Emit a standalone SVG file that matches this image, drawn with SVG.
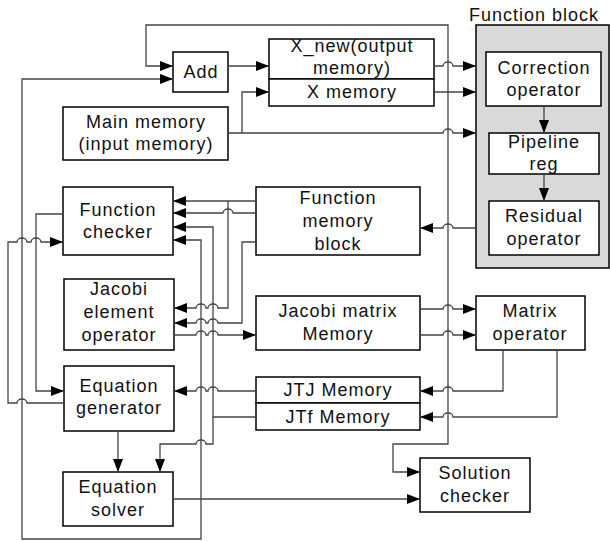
<svg xmlns="http://www.w3.org/2000/svg" width="610" height="541" viewBox="0 0 610 541">
<style>
.b{fill:#fff;stroke:#000;stroke-width:1.5}
.g{fill:#d9d9d9;stroke:#000;stroke-width:1.5}
.t{font-family:"Liberation Sans",Arial,sans-serif;font-size:18px;letter-spacing:1px;text-anchor:middle;fill:#111}
.c path{fill:none;stroke:#444;stroke-width:1.3}
.c path.a{marker-end:url(#ah)}
</style>
<defs>
<marker id="ah" markerUnits="userSpaceOnUse" markerWidth="14" markerHeight="10" refX="13" refY="5" orient="auto">
<path d="M0,0 L13,5 L0,10 z" fill="#000"/>
</marker>
</defs>
<rect width="610" height="541" fill="#fff"/>

<g id="function-block">
<rect class="g" x="476" y="25" width="133" height="243"/>
<text class="t" x="534" y="21">Function block</text>
</g>
<g id="add"><rect class="b" x="173" y="52" width="55" height="40"/><text class="t" x="201" y="78">Add</text></g>
<g id="x-new"><rect class="b" x="269" y="39" width="165" height="40"/><text class="t" x="352" y="52">X_new(output</text><text class="t" x="352" y="74">memory)</text></g>
<g id="x-memory"><rect class="b" x="269" y="79" width="165" height="27"/><text class="t" x="352" y="98">X memory</text></g>
<g id="main-memory"><rect class="b" x="63" y="107" width="165" height="53"/><text class="t" x="146" y="128">Main memory</text><text class="t" x="146" y="150">(input memory)</text></g>
<g id="correction-operator"><rect class="b" x="486" y="52" width="115" height="54"/><text class="t" x="544" y="74">Correction</text><text class="t" x="544" y="96">operator</text></g>
<g id="pipeline-reg"><rect class="b" x="489" y="133" width="110" height="41"/><text class="t" x="544" y="148">Pipeline</text><text class="t" x="544" y="170">reg</text></g>
<g id="residual-operator"><rect class="b" x="489" y="201" width="110" height="54"/><text class="t" x="544" y="222">Residual</text><text class="t" x="544" y="245">operator</text></g>
<g id="function-memory-block"><rect class="b" x="256" y="187" width="164" height="68"/><text class="t" x="338" y="204">Function</text><text class="t" x="338" y="227">memory</text><text class="t" x="338" y="250">block</text></g>
<g id="function-checker"><rect class="b" x="63" y="187" width="110" height="68"/><text class="t" x="118" y="216">Function</text><text class="t" x="118" y="238">checker</text></g>
<g id="jacobi-element-operator"><rect class="b" x="64" y="279" width="110" height="71"/><text class="t" x="119" y="295">Jacobi</text><text class="t" x="119" y="318">element</text><text class="t" x="119" y="341">operator</text></g>
<g id="jacobi-matrix-memory"><rect class="b" x="256" y="296" width="164" height="54"/><text class="t" x="338" y="317">Jacobi matrix</text><text class="t" x="338" y="340">Memory</text></g>
<g id="matrix-operator"><rect class="b" x="476" y="296" width="109" height="54"/><text class="t" x="530" y="317">Matrix</text><text class="t" x="530" y="340">operator</text></g>
<g id="jtj-memory"><rect class="b" x="256" y="377" width="164" height="26"/><text class="t" x="338" y="396">JTJ Memory</text></g>
<g id="jtf-memory"><rect class="b" x="256" y="403" width="164" height="27"/><text class="t" x="338" y="423">JTf Memory</text></g>
<g id="equation-generator"><rect class="b" x="64" y="366" width="110" height="65"/><text class="t" x="119" y="392">Equation</text><text class="t" x="119" y="414">generator</text></g>
<g id="equation-solver"><rect class="b" x="63" y="472" width="110" height="54"/><text class="t" x="118" y="493">Equation</text><text class="t" x="118" y="516">solver</text></g>
<g id="solution-checker"><rect class="b" x="420" y="458" width="110" height="54"/><text class="t" x="475" y="479">Solution</text><text class="t" x="475" y="502">checker</text></g>

<g id="connectors" class="c">
<path class="a" d="M434,92 H476"/>
<path class="a" d="M448,92 V25 H146 V66 H173"/>
<path class="a" d="M448,92 V444 H393 V472 H420"/>
<path class="a" d="M228,66 H269"/>
<path class="a" d="M434,66 H443 a5,4 0 0 1 10,0 H476"/>
<path class="a" d="M228,133 H443 a5,4 0 0 1 10,0 H476"/>
<path class="a" d="M242,133 V92 H269"/>
<path class="a" d="M544,106 V133"/>
<path class="a" d="M544,174 V201"/>
<path class="a" d="M476,228 H453 a5,4 0 0 0 -10,0 H420"/>
<path class="a" d="M256,201 H173"/>
<path class="a" d="M228,201 V308 H218 a5,4 0 0 0 -10,0 H206 a5,4 0 0 0 -10,0 H174"/>
<path class="a" d="M256,213 H233 a5,4 0 0 0 -10,0 H173"/>
<path class="a" d="M256,242 H242 V323 H218 a5,4 0 0 0 -10,0 H206 a5,4 0 0 0 -10,0 H174"/>
<path class="a" d="M174,335 H196 a5,4 0 0 1 10,0 H208 a5,4 0 0 1 10,0 H256"/>
<path class="a" d="M420,309 H443 a5,4 0 0 1 10,0 H476"/>
<path class="a" d="M420,335 H443 a5,4 0 0 1 10,0 H476"/>
<path class="a" d="M503,350 V391 H453 a5,4 0 0 0 -10,0 H420"/>
<path class="a" d="M557,350 V417 H453 a5,4 0 0 0 -10,0 H420"/>
<path class="a" d="M256,391 H218 a5,4 0 0 0 -10,0 H206 a5,4 0 0 0 -10,0 H174"/>
<path class="a" d="M256,417 H213 V227 H173"/>
<path class="a" d="M213,417 V444 H206 a5,4 0 0 0 -10,0 H160 V472"/>
<path class="a" d="M174,499 H420"/>
<path class="a" d="M201,499 V240 H173"/>
<path class="a" d="M201,499 V539 H22 V79 H173"/>
<path class="a" d="M63,214 H36 V391 H64"/>
<path class="a" d="M64,403 H27 a5,4 0 0 0 -10,0 H8 V242 H17 a5,4 0 0 1 10,0 H31 a5,4 0 0 1 10,0 H63"/>
<path class="a" d="M118,431 V472"/>
</g>
</svg>
